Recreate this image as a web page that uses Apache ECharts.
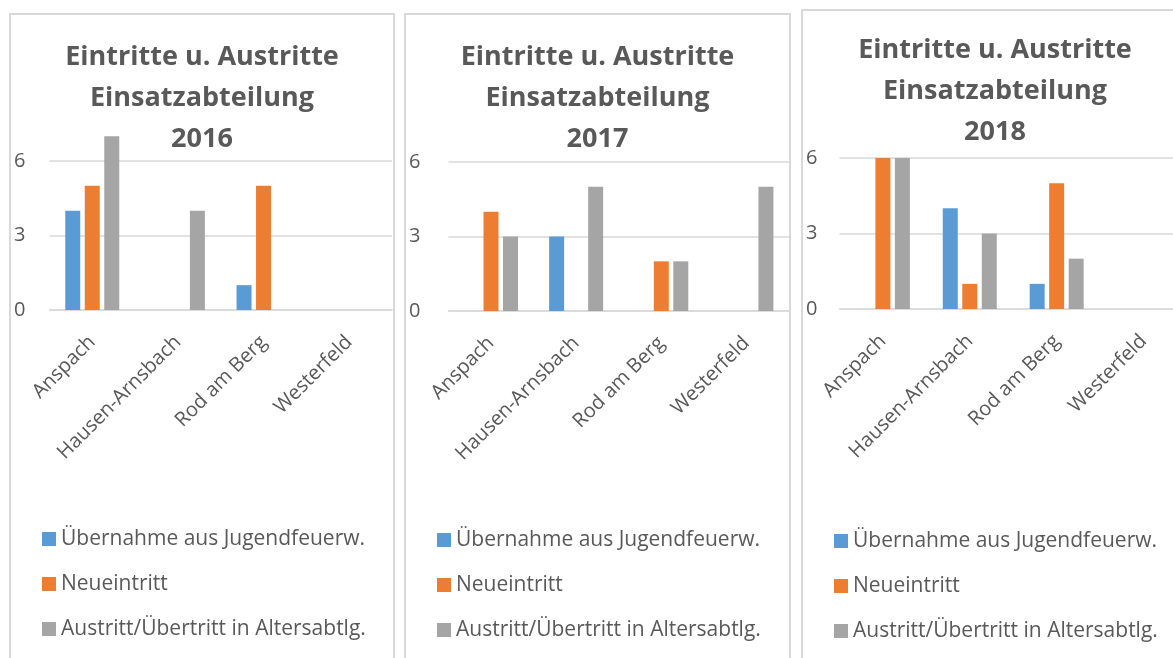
<!DOCTYPE html>
<html>
<head>
<meta charset="utf-8">
<script src="https://cdn.jsdelivr.net/npm/echarts@6/dist/echarts.min.js"></script>
<style>
  html, body { margin: 0; padding: 0; background: #fff; overflow: hidden; }
  body { width: 1173px; height: 658px; position: relative; }
  .panel {
    position: absolute;
    border: 2px solid #d9d9d9;
    box-sizing: content-box;
    height: 700px;
  }
</style>
</head>
<body>
<div id="c2016" class="panel" style="left:9px; top:13px; width:382px;"></div>
<div id="c2017" class="panel" style="left:404px; top:13px; width:383px;"></div>
<div id="c2018" class="panel" style="left:801px; top:9px; width:384px;"></div>

<script>
// Kategorien (Abteilungen)
const orte = ['Anspach', 'Hausen-Arnsbach', 'Rod am Berg', 'Westerfeld'];
const serienNamen = ['Übernahme aus Jugendfeuerw.', 'Neueintritt', 'Austritt/Übertritt in Altersabtlg.'];
const farben = ['#5B9BD5', '#ED7D31', '#A5A5A5'];

// 2016
const uebernahme2016 = [4, 0, 1, 0];
const neueintritt2016 = [5, 0, 5, 0];
const austritt2016 = [7, 4, 0, 0];
// 2017
const uebernahme2017 = [0, 3, 0, 0];
const neueintritt2017 = [4, 0, 2, 0];
const austritt2017 = [3, 5, 2, 5];
// 2018
const uebernahme2018 = [0, 4, 1, 0];
const neueintritt2018 = [6, 1, 5, 0];
const austritt2018 = [6, 3, 2, 0];

const yTicks = [0, 3, 6];

const textFarbe = '#595959';
const linienFarbe = '#d9d9d9';
const schrift = '"Open Sans", "Liberation Sans", sans-serif';

// baut die Optionen für ein Jahr
function makeOption(jahr, werte, g) {
  return {
    animation: false,
    title: {
      text: 'Eintritte u. Austritte\nEinsatzabteilung\n' + jahr,
      left: 'center',
      top: g.titleTop,
      padding: 0,
      textStyle: {
        fontFamily: schrift,
        fontWeight: 'bold',
        fontSize: 27,
        lineHeight: 41,
        color: textFarbe
      }
    },
    legend: {
      data: serienNamen,
      orient: 'vertical',
      left: 31,
      top: g.legendTop,
      padding: 0,
      icon: 'rect',
      itemWidth: 14,
      itemHeight: 14,
      itemGap: 23,
      textStyle: { fontFamily: schrift, fontSize: 21, lineHeight: 22, color: textFarbe }
    },
    grid: { left: g.left, top: g.top, width: g.width, height: g.height },
    xAxis: {
      type: 'category',
      data: orte,
      axisTick: { show: false },
      axisLine: { lineStyle: { color: linienFarbe, width: 1.5 } },
      axisLabel: {
        interval: 0,
        rotate: 45,
        margin: 29,
        fontFamily: schrift,
        fontSize: 20,
        color: textFarbe
      }
    },
    yAxis: {
      type: 'value',
      min: 0,
      max: 9,
      interval: 3,
      axisLine: { show: false },
      axisTick: { show: false },
      splitLine: { showMaxLine: false, lineStyle: { color: linienFarbe, width: 1.5 } },
      axisLabel: {
        showMaxLabel: false,
        margin: g.labelMargin,
        fontFamily: schrift,
        fontSize: 20,
        color: textFarbe,
        formatter: v => (yTicks.indexOf(v) >= 0 ? String(v) : '')
      }
    },
    series: serienNamen.map((name, i) => ({
      name: name,
      type: 'bar',
      data: werte[i],
      barWidth: 15,
      barGap: '30%',
      itemStyle: { color: farben[i] }
    }))
  };
}

const c1 = echarts.init(document.getElementById('c2016'));
c1.setOption(makeOption(2016, [uebernahme2016, neueintritt2016, austritt2016],
  { titleTop: 21.5, legendTop: 513, left: 38, top: 71.5, width: 343, height: 223.5, labelMargin: 24 }));

const c2 = echarts.init(document.getElementById('c2017'));
c2.setOption(makeOption(2017, [uebernahme2017, neueintritt2017, austritt2017],
  { titleTop: 21.5, legendTop: 514, left: 37, top: 72.5, width: 347, height: 223.5, labelMargin: 28 }));

const c3 = echarts.init(document.getElementById('c2018'));
c3.setOption(makeOption(2018, [uebernahme2018, neueintritt2018, austritt2018],
  { titleTop: 18.5, legendTop: 519, left: 36, top: 71.5, width: 348, height: 226.5, labelMargin: 22 }));
</script>
</body>
</html>
